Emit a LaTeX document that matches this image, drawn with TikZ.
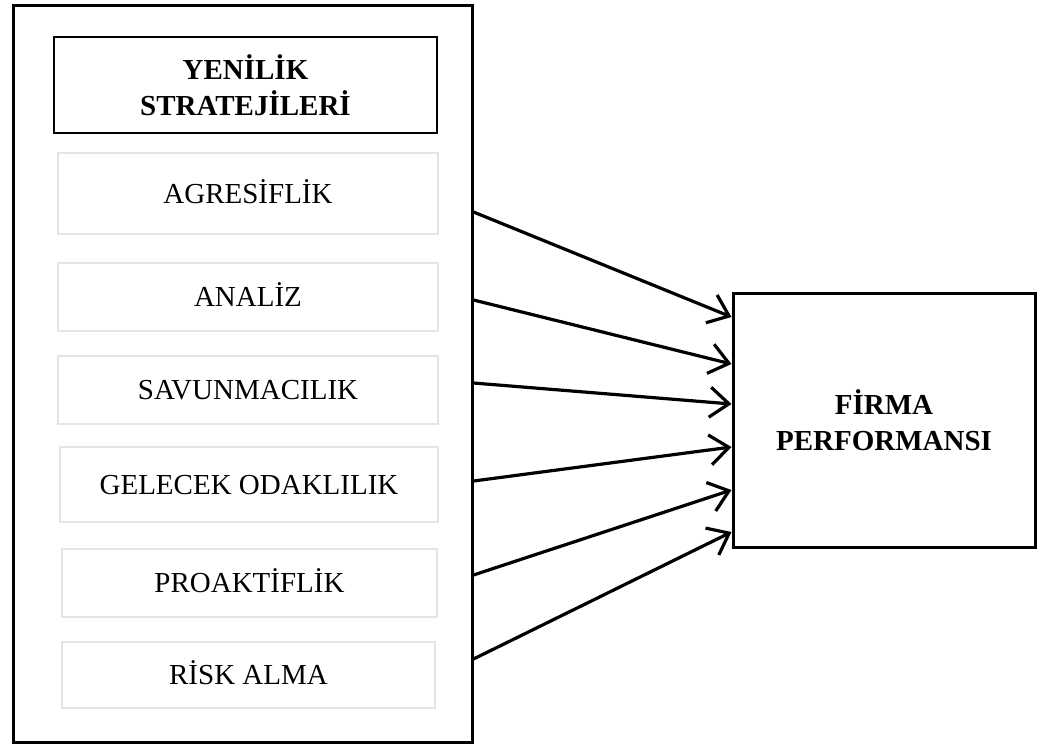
\documentclass[tikz,border=0pt]{standalone}
\usepackage{fontspec}
\setmainfont{Liberation Serif}
\usetikzlibrary{arrows.meta}
\def\txt{\fontsize{14.5}{18}\selectfont}

\begin{document}
\begin{tikzpicture}[x=0.5pt,y=-0.5pt,shorten >=0pt,shorten <=0pt,>={Straight Barb[length=9.5pt,width=15pt,line width=1.6pt]}]
    \tikzset{
        outer/.style={draw,line width=1.5pt,rectangle,inner sep=0pt},
        head/.style={draw,line width=1.3pt,rectangle,inner sep=0pt,align=center,font=\txt\bfseries},
        item/.style={draw=black!10,line width=1.1pt,rectangle,inner sep=0pt,font=\txt,text height=9.6pt,text depth=0pt},
        link/.style={->,line width=1.6pt}
    }
    \useasboundingbox (0,0) rectangle (1039,745);

    \begin{scope}
        \node[outer,minimum width=229.5pt,minimum height=368.5pt] (S) at (242.5,373.5) {};
        \node[head,minimum width=191.5pt,minimum height=48pt] (YS) at (245.5,85) {YENİLİK\\STRATEJİLERİ};

        \node[item,minimum width=190pt,minimum height=40.5pt] (AGR) at (248,193.5) {AGRESİFLİK};
        \node[item,minimum width=190pt,minimum height=34pt] (ANA) at (248,297) {ANALİZ};
        \node[item,minimum width=190pt,minimum height=34pt] (SAV) at (248,390) {SAVUNMACILIK};
        \node[item,minimum width=189pt,minimum height=37.5pt] (GEL) at (249,484.5) {GELECEK ODAKLILIK};
        \node[item,minimum width=187.5pt,minimum height=34pt] (PRO) at (249.5,583) {PROAKTİFLİK};
        \node[item,minimum width=186.5pt,minimum height=33pt] (RSK) at (248.5,675) {RİSK ALMA};
    \end{scope}

    \node[head,line width=1.5pt,minimum width=151pt,minimum height=127pt] (FP) at (884,420) {FİRMA\\PERFORMANSI};

    % oklar
    \draw[link] (S.east |- 0,212) -- (FP.west |- 0,317);
    \draw[link] (S.east |- 0,300) -- (FP.west |- 0,364);
    \draw[link] (S.east |- 0,383) -- (FP.west |- 0,404);
    \draw[link] (S.east |- 0,481) -- (FP.west |- 0,447);
    \draw[link] (S.east |- 0,575) -- (FP.west |- 0,490);
    \draw[link] (S.east |- 0,659) -- (FP.west |- 0,532);

\end{tikzpicture}
\end{document}
